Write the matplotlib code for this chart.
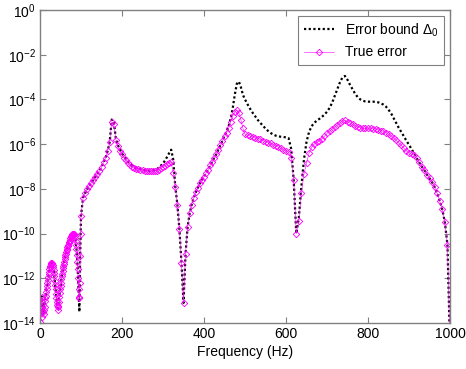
import matplotlib
matplotlib.use("Agg")
import matplotlib.pyplot as plt
import numpy as np

plt.rcParams['font.family'] = ['Liberation Sans', 'DejaVu Sans']
plt.rcParams['mathtext.fontset'] = 'custom'
plt.rcParams['mathtext.rm'] = 'Liberation Sans'
plt.rcParams['mathtext.it'] = 'Liberation Sans:italic'

# frequency grids (Hz)
freq_a = np.arange(0, 100, 1)          # 0 .. 99
freq_b = np.arange(100, 500, 5)        # 100 .. 495
freq_c = np.arange(0, 81) * 6.25 + 500  # 500 .. 1000

# log10 of the error bound / true error
bound_a = [-13.9, -13.5, -13.3, -12.9, -12.8, -13.2, -13.6, -13.4, -13.1, -13.3,
           -13.5, -13.2, -12.9, -12.85, -12.75, -12.62, -12.5, -12.35, -12.2, -12.07,
           -11.95, -11.82, -11.7, -11.6, -11.5, -11.43, -11.37, -11.32, -11.3, -11.31,
           -11.35, -11.42, -11.5, -11.62, -11.75, -11.92, -12.1, -12.3, -12.5, -12.7,
           -12.9, -13.05, -13.2, -13.3, -13.35, -13.2, -13.0, -12.82, -12.65, -12.5,
           -12.35, -12.2, -12.05, -11.92, -11.8, -11.67, -11.55, -11.45, -11.35, -11.25,
           -11.15, -11.06, -10.98, -10.9, -10.82, -10.75, -10.68, -10.61, -10.55, -10.49,
           -10.43, -10.37, -10.32, -10.27, -10.22, -10.17, -10.13, -10.09, -10.06, -10.04,
           -10.02, -10.01, -10.0, -10.02, -10.05, -10.11, -10.2, -10.33, -10.5, -10.7,
           -10.95, -11.25, -11.6, -12.0, -12.5, -13.0, -13.5, -12.2, -11.0, -10.0]
error_a = [-13.95, -13.6, -13.35, -13.0, -12.85, -13.3, -13.75, -13.5, -13.2, -13.4,
           -13.6, -13.3, -13.0, -12.9, -12.78, -12.63, -12.5, -12.35, -12.2, -12.07,
           -11.95, -11.82, -11.7, -11.6, -11.5, -11.43, -11.37, -11.32, -11.3, -11.31,
           -11.35, -11.42, -11.5, -11.62, -11.75, -11.92, -12.1, -12.3, -12.5, -12.7,
           -12.9, -13.05, -13.2, -13.3, -13.4, -13.25, -13.05, -12.85, -12.65, -12.5,
           -12.35, -12.2, -12.05, -11.92, -11.8, -11.67, -11.55, -11.45, -11.35, -11.25,
           -11.15, -11.06, -10.98, -10.9, -10.82, -10.75, -10.68, -10.61, -10.55, -10.49,
           -10.43, -10.37, -10.32, -10.27, -10.22, -10.17, -10.13, -10.09, -10.06, -10.04,
           -10.02, -10.01, -10.0, -10.02, -10.05, -10.11, -10.2, -10.33, -10.5, -10.7,
           -10.95, -11.25, -11.6, -12.0, -12.5, -12.85, -12.9, -12.2, -11.0, -10.0]

bound_b = [-9.2, -8.4, -8.2, -8.02, -7.87, -7.73, -7.6, -7.47, -7.33, -7.2,
           -7.02, -6.82, -6.6, -6.3, -5.9, -4.9, -5.0, -5.75, -6.05, -6.25,
           -6.42, -6.56, -6.68, -6.8, -6.9, -6.97, -7.03, -7.07, -7.1, -7.13,
           -7.15, -7.17, -7.18, -7.19, -7.19, -7.18, -7.16, -7.12, -7.05, -6.96,
           -6.86, -6.73, -6.57, -6.4, -6.25, -6.7, -7.9, -8.7, -9.8, -11.3,
           -13.1, -10.9, -9.7, -9.1, -8.7, -8.4, -8.15, -7.95, -7.75, -7.6,
           -7.45, -7.3, -7.15, -6.95, -6.8, -6.6, -6.45, -6.25, -6.05, -5.85,
           -5.62, -5.45, -5.2, -4.85, -4.4, -3.8, -3.3, -3.2, -3.45, -3.8]
error_b = [-9.2, -8.4, -8.2, -8.02, -7.87, -7.73, -7.6, -7.47, -7.33, -7.2,
           -7.02, -6.82, -6.6, -6.3, -5.92, -5.0, -5.1, -5.8, -6.1, -6.3,
           -6.45, -6.6, -6.72, -6.83, -6.93, -7.0, -7.05, -7.09, -7.12, -7.15,
           -7.17, -7.19, -7.2, -7.21, -7.21, -7.21, -7.2, -7.18, -7.14, -7.08,
           -7.02, -6.96, -6.9, -6.83, -6.8, -7.3, -7.9, -8.7, -9.8, -11.3,
           -13.1, -10.9, -9.7, -9.1, -8.7, -8.4, -8.15, -7.95, -7.75, -7.6,
           -7.45, -7.3, -7.15, -6.95, -6.8, -6.6, -6.45, -6.25, -6.05, -5.85,
           -5.65, -5.5, -5.3, -5.0, -4.75, -4.55, -4.47, -4.6, -4.92, -5.3]

bound_c = [-4.0, -4.22, -4.42, -4.6, -4.76, -4.92, -5.05, -5.18, -5.3, -5.41,
           -5.5, -5.57, -5.62, -5.65, -5.67, -5.68, -5.7, -5.73, -6.2, -7.6,
           -10.0, -9.3, -7.9, -6.7, -5.9, -5.45, -5.2, -5.05, -4.95, -4.87,
           -4.78, -4.68, -4.55, -4.38, -4.15, -3.85, -3.55, -3.25, -3.02, -2.95,
           -3.12, -3.35, -3.55, -3.75, -3.9, -4.0, -4.06, -4.09, -4.1, -4.1,
           -4.1, -4.11, -4.13, -4.18, -4.23, -4.32, -4.46, -4.62, -4.84, -5.05,
           -5.27, -5.46, -5.65, -5.85, -6.03, -6.22, -6.42, -6.62, -6.82, -7.0,
           -7.17, -7.36, -7.53, -7.7, -7.92, -8.2, -8.55, -8.92, -9.5, -10.5,
           -15.0]
error_c = [-5.55, -5.6, -5.64, -5.68, -5.71, -5.75, -5.79, -5.84, -5.89, -5.93,
           -5.97, -6.02, -6.07, -6.13, -6.19, -6.25, -6.3, -6.36, -6.6, -7.6,
           -10.0, -9.45, -8.2, -7.35, -6.85, -6.4, -6.15, -6.0, -5.92, -5.85,
           -5.77, -5.65, -5.52, -5.42, -5.33, -5.24, -5.15, -5.06, -4.97, -4.93,
           -5.0, -5.06, -5.12, -5.18, -5.23, -5.27, -5.29, -5.29, -5.29, -5.3,
           -5.31, -5.33, -5.36, -5.39, -5.43, -5.48, -5.55, -5.63, -5.72, -5.83,
           -5.95, -6.06, -6.18, -6.3, -6.38, -6.45, -6.5, -6.64, -6.82, -7.0,
           -7.17, -7.36, -7.53, -7.7, -7.92, -8.2, -8.55, -8.92, -9.5, -10.5,
           -15.0]

freq = np.concatenate([freq_a, freq_b, freq_c])
bound = 10.0 ** np.array(bound_a + bound_b + bound_c)
error = 10.0 ** np.array(error_a + error_b + error_c)

fig = plt.figure(figsize=(4.66, 3.69), dpi=100)
ax = fig.add_axes([40 / 466, 46 / 369, 410 / 466, 313 / 369])

ax.semilogy(freq, bound, color='black', linestyle=(0, (1, 1.1)), linewidth=1.6,
            label=r'Error bound $\Delta_0$')
ax.semilogy(freq, error, color='magenta', linestyle='-', linewidth=0.4,
            marker='D', markersize=3.3, markerfacecolor='none',
            markeredgewidth=0.6, label='True error')

ax.set_xlim(0, 1000)
ax.set_ylim(1e-14, 1e0)
ax.set_xticks([0, 200, 400, 600, 800, 1000])
ax.set_yticks([10.0 ** k for k in range(-14, 1, 2)])
ax.minorticks_off()
ax.tick_params(direction='in', top=True, right=True, length=4, width=0.8,
               color='#808080', labelsize=10, pad=3)
for s in ax.spines.values():
    s.set_color('#808080')
    s.set_linewidth(1)

ax.set_xlabel('Frequency (Hz)', fontsize=10, labelpad=3)

leg = ax.legend(loc='upper right', fontsize=10, fancybox=False,
                edgecolor='#808080', framealpha=1, handlelength=2.2,
                borderaxespad=0.4, labelspacing=0.5)
leg.get_frame().set_linewidth(0.8)

fig.savefig('out.png', dpi=100)
